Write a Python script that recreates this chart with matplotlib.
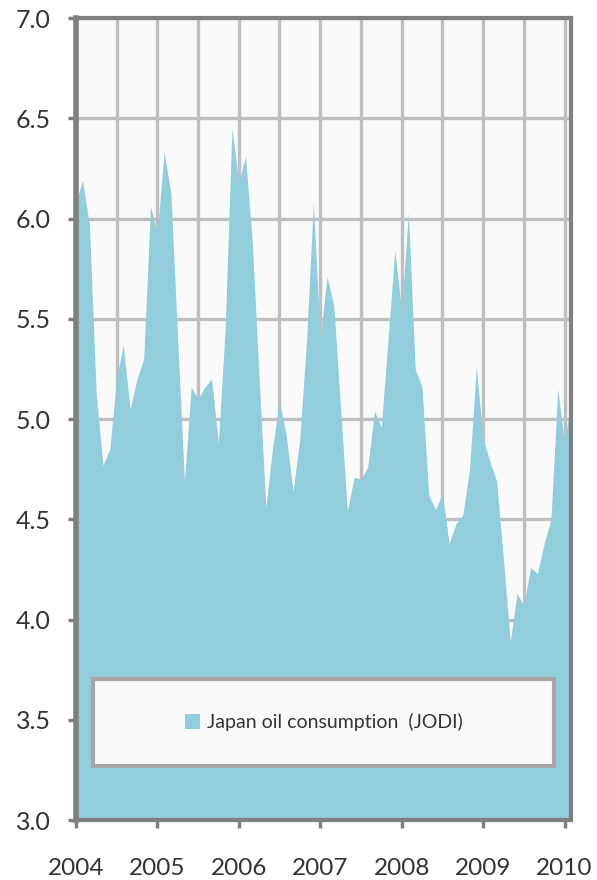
import numpy as np
import matplotlib.pyplot as plt
from matplotlib.patches import Rectangle

# monthly values, Jan 2004 .. Feb 2010 (million barrels per day)
consumption = [6.08, 6.19, 5.97, 5.13, 4.77, 4.85, 5.20, 5.37, 5.05, 5.20, 5.30, 6.06,
               5.93, 6.33, 6.13, 5.40, 4.69, 5.16, 5.10, 5.16, 5.20, 4.88, 5.45, 6.45,
               6.18, 6.31, 5.88, 5.21, 4.56, 4.86, 5.09, 4.92, 4.64, 4.90, 5.40, 6.08,
               5.40, 5.71, 5.57, 5.06, 4.54, 4.71, 4.70, 4.76, 5.04, 4.96, 5.40, 5.84,
               5.54, 6.03, 5.25, 5.16, 4.62, 4.55, 4.63, 4.38, 4.48, 4.52, 4.75, 5.26,
               4.90, 4.79, 4.69, 4.30, 3.89, 4.13, 4.07, 4.26, 4.23, 4.38, 4.50, 5.15,
               4.88, 5.11]
start_year = 2004
years = [2004, 2005, 2006, 2007, 2008, 2009, 2010]
y_ticks = [3.0, 3.5, 4.0, 4.5, 5.0, 5.5, 6.0, 6.5, 7.0]
series_name = "Japan oil consumption  (JODI)"

x = start_year + np.arange(len(consumption)) / 12.0

plt.rcParams['font.family'] = ['Lato', 'DejaVu Sans']

fig = plt.figure(figsize=(5.97, 8.8), dpi=100)
ax = fig.add_axes([0.127, 0.068, 0.830, 0.9115])
ax.set_facecolor('#FAFAFA')

ax.fill_between(x, 3.0, consumption, color='#92CDDC', lw=0, zorder=2)

ax.set_xlim(x[0], x[-1])
ax.set_ylim(3.0, 7.0)
ax.set_xticks(years)
ax.set_xticks(np.arange(2004.5, 2010, 1.0), minor=True)
ax.set_yticks(y_ticks)
ax.set_yticklabels([f"{v:.1f}" for v in y_ticks])

ax.grid(True, which='both', color='#BFBFBF', lw=2.4, zorder=1)
ax.set_axisbelow(True)

for side in ['left', 'bottom', 'top', 'right']:
    ax.spines[side].set_color('#808080')
    ax.spines[side].set_linewidth(3)
    ax.spines[side].set_zorder(3)
ax.spines['left'].set_linewidth(4)

ax.tick_params(axis='both', which='major', color='#808080', width=2.5, length=6,
               labelsize=18, labelcolor='#333333')
ax.tick_params(axis='x', which='major', pad=21, labelsize=17.5)
ax.tick_params(axis='y', which='major', pad=12)
ax.tick_params(axis='x', which='minor', length=0)

# legend box
ax.add_patch(Rectangle((0.035, 0.068), 0.93, 0.108, transform=ax.transAxes,
                       facecolor='#FAFAFA', edgecolor='#A6A6A6', lw=3, zorder=4))
handle = Rectangle((0, 0), 1, 1, facecolor='#92CDDC', edgecolor='none')
ax.legend([handle], [series_name], loc='center', bbox_to_anchor=(0.5, 0.122),
          frameon=False, fontsize=14, handlelength=0.8, handleheight=0.8,
          handletextpad=0.35, labelcolor='#333333').set_zorder(5)

fig.savefig('out.png', dpi=100)
